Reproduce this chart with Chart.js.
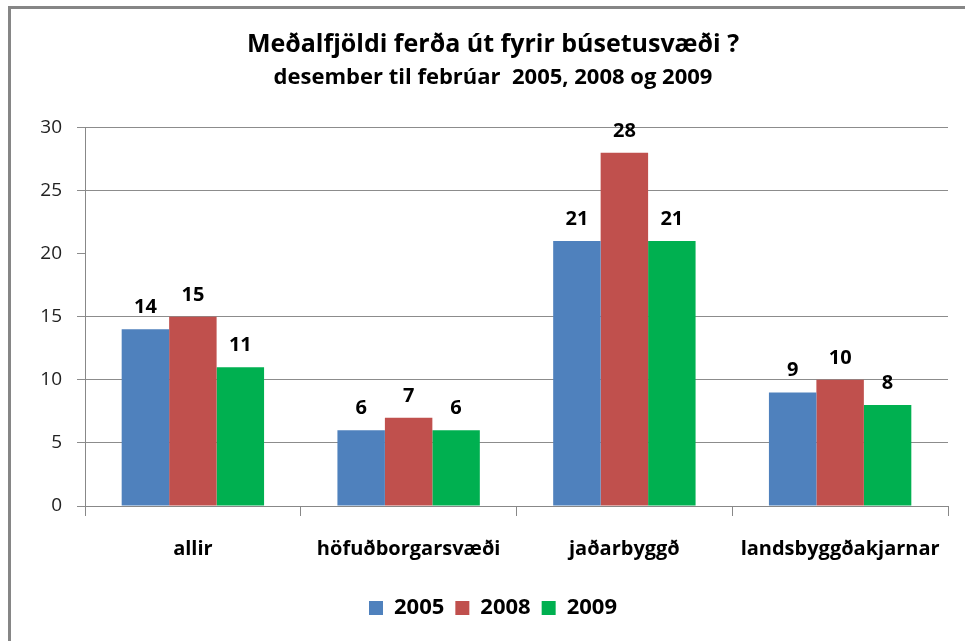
<!DOCTYPE html>
<html>
<head>
<meta charset="utf-8">
<script src="https://cdn.jsdelivr.net/npm/chart.js@4/dist/chart.umd.min.js"></script>
<style>
  html, body { margin: 0; padding: 0; background: #fff; overflow: hidden; }
  #frame { position: absolute; left: 8px; top: 6px; width: 2000px; height: 2000px;
           border-left: 3px solid #868686; border-top: 3px solid #868686; }
  #chart { position: absolute; left: 0; top: 0; }
</style>
</head>
<body>
<div id="frame"></div>
<canvas id="chart" width="965" height="641"></canvas>
<script>
// data
const categories = ['allir', 'höfuðborgarsvæði', 'jaðarbyggð', 'landsbyggðakjarnar'];
const years = ['2005', '2008', '2009'];
const values2005 = [14, 6, 21, 9];
const values2008 = [15, 7, 28, 10];
const values2009 = [11, 6, 21, 8];
const yTicks = [0, 5, 10, 15, 20, 25, 30];

const colors = ['#4F81BD', '#C0504D', '#00B050'];
const fontFam = '"Open Sans", "DejaVu Sans", sans-serif';

// labels above bars
const barLabels = {
  id: 'barLabels',
  afterDatasetsDraw(chart) {
    const ctx = chart.ctx;
    ctx.save();
    ctx.font = 'bold 20px ' + fontFam;
    ctx.fillStyle = '#000';
    ctx.textAlign = 'center';
    ctx.textBaseline = 'alphabetic';
    chart.data.datasets.forEach((ds, i) => {
      chart.getDatasetMeta(i).data.forEach((bar, j) => {
        ctx.fillText(String(ds.data[j]), bar.x, bar.y - 16);
      });
    });
    ctx.restore();
  }
};

new Chart(document.getElementById('chart'), {
  type: 'bar',
  data: {
    labels: categories,
    datasets: [
      { label: years[0], data: values2005, backgroundColor: colors[0] },
      { label: years[1], data: values2008, backgroundColor: colors[1] },
      { label: years[2], data: values2009, backgroundColor: colors[2] }
    ]
  },
  options: {
    responsive: false,
    animation: false,
    devicePixelRatio: 1,
    categoryPercentage: 0.66,
    barPercentage: 1,
    layout: { padding: { left: 38, right: 17, top: 0, bottom: 12 } },
    scales: {
      x: {
        grid: { drawOnChartArea: false, drawTicks: true, tickLength: 10, color: '#888' },
        border: { color: '#888' },
        ticks: { color: '#000', padding: 21, font: { family: fontFam, size: 20, weight: 'bold' } },
        afterFit(scale) { scale.height = 80; }
      },
      y: {
        min: 0,
        max: 30,
        afterBuildTicks(scale) { scale.ticks = yTicks.map(v => ({ value: v })); },
        grid: {
          color: ctx => (ctx.tick && ctx.tick.value === 20) ? 'rgba(0,0,0,0)' : '#8c8c8c',
          tickLength: 8,
          tickColor: '#8c8c8c'
        },
        border: { color: '#888' },
        ticks: { color: '#222', padding: 15, font: { family: fontFam, size: 19 } },
        afterFit(scale) { scale.width = 47; }
      }
    },
    plugins: {
      title: {
        display: true,
        text: 'Meðalfjöldi ferða út fyrir búsetusvæði ?',
        color: '#000',
        font: { family: fontFam, size: 25, weight: 'bold' },
        padding: { top: 30, bottom: 5 }
      },
      subtitle: {
        display: true,
        text: 'desember til febrúar  2005, 2008 og 2009',
        color: '#000',
        font: { family: fontFam, size: 22, weight: 'bold' },
        padding: { top: 0, bottom: 36 }
      },
      legend: {
        position: 'bottom',
        labels: {
          color: '#000',
          boxWidth: 14,
          boxHeight: 14,
          padding: 11,
          font: { family: fontFam, size: 22, weight: 'bold' }
        }
      },
      tooltip: { enabled: false }
    }
  },
  plugins: [barLabels]
});
</script>
</body>
</html>
